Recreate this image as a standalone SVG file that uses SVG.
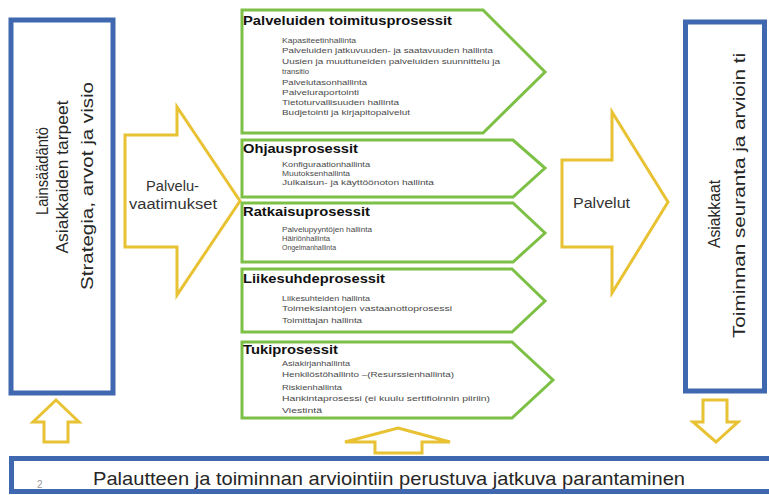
<svg xmlns="http://www.w3.org/2000/svg" width="769" height="495" viewBox="0 0 769 495">
<style>
.bluebox{fill:#ffffff;stroke:#4068B0;stroke-width:5}
.yarrow{fill:#ffffff;stroke:#E8C232;stroke-width:3;stroke-linejoin:miter}
.chev{fill:#ffffff;stroke:#7DC046;stroke-width:3}
.big{font-family:"Liberation Sans",Arial,sans-serif;fill:#262626}
.lbl{font-family:"Liberation Sans",Arial,sans-serif;font-size:14px;fill:#333}
.ttl{font-family:"Liberation Sans",Arial,sans-serif;font-size:13px;font-weight:bold;fill:#111}
.itm{font-family:"Liberation Sans",Arial,sans-serif;font-size:8px;fill:#4a4a4a}
</style>
<rect width="769" height="495" fill="#ffffff"/>

<g id="left-box">
<rect class="bluebox" x="11" y="20" width="102" height="373"/>
<text class="big" font-size="17" text-anchor="middle" transform="translate(48,171) rotate(-90)" textLength="88" lengthAdjust="spacingAndGlyphs">Lainsäädäntö</text>
<text class="big" font-size="17" text-anchor="middle" transform="translate(68,177) rotate(-90)" textLength="153" lengthAdjust="spacingAndGlyphs">Asiakkaiden tarpeet</text>
<text class="big" font-size="17" text-anchor="middle" transform="translate(93,186) rotate(-90)" textLength="208" lengthAdjust="spacingAndGlyphs">Strategia, arvot ja visio</text>
</g>

<g id="right-box">
<rect class="bluebox" x="685.5" y="22" width="79" height="369"/>
<text class="big" font-size="17" text-anchor="middle" transform="translate(720,214) rotate(-90)" textLength="68" lengthAdjust="spacingAndGlyphs">Asiakkaat</text>
<text class="big" font-size="17" text-anchor="middle" transform="translate(745,195.5) rotate(-90)" textLength="285" lengthAdjust="spacingAndGlyphs">Toiminnan seuranta ja arvioin ti</text>
</g>

<g id="bottom-bar">
<rect class="bluebox" x="11.5" y="458.5" width="770" height="33"/>
<text x="37" y="488" font-family="Liberation Sans,Arial,sans-serif" font-size="10" fill="#9a9a9a">2</text>
<text class="big" x="93" y="485" font-size="19" textLength="592" lengthAdjust="spacingAndGlyphs">Palautteen ja toiminnan arviointiin perustuva jatkuva parantaminen</text>
</g>

<g id="arrow-vaatimukset">
<polygon class="yarrow" points="125,135 177,135 177,107 240,201 177,295 177,247 125,247"/>
<text class="lbl" x="172.5" y="191" text-anchor="middle" textLength="53" lengthAdjust="spacingAndGlyphs">Palvelu-</text>
<text class="lbl" x="173" y="209" text-anchor="middle" textLength="88" lengthAdjust="spacingAndGlyphs">vaatimukset</text>
</g>

<g id="arrow-palvelut">
<polygon class="yarrow" points="562,160 612,160 612,112 668,202 612,293 612,247 562,247"/>
<text class="lbl" x="601.5" y="208" text-anchor="middle" textLength="57" lengthAdjust="spacingAndGlyphs">Palvelut</text>
</g>

<g id="proc-toimitus">
<polygon class="chev" points="242,10 483,10 545,72 483,133 242,133"/>
<text class="ttl" x="243" y="25" textLength="209" lengthAdjust="spacingAndGlyphs">Palveluiden toimitusprosessit</text>
<text class="itm" x="282" y="43" textLength="74" lengthAdjust="spacingAndGlyphs">Kapasiteetinhallinta</text>
<text class="itm" x="282" y="53" textLength="211" lengthAdjust="spacingAndGlyphs">Palveluiden jatkuvuuden- ja saatavuuden hallinta</text>
<text class="itm" x="282" y="64" textLength="218" lengthAdjust="spacingAndGlyphs">Uusien ja muuttuneiden palveluiden suunnittelu ja</text>
<text class="itm" x="282" y="74" textLength="27" lengthAdjust="spacingAndGlyphs">transitio</text>
<text class="itm" x="282" y="85" textLength="85" lengthAdjust="spacingAndGlyphs">Palvelutasonhallinta</text>
<text class="itm" x="282" y="95" textLength="77" lengthAdjust="spacingAndGlyphs">Palveluraportointi</text>
<text class="itm" x="282" y="105" textLength="117" lengthAdjust="spacingAndGlyphs">Tietoturvallisuuden hallinta</text>
<text class="itm" x="282" y="115" textLength="128" lengthAdjust="spacingAndGlyphs">Budjetointi ja kirjapitopalvelut</text>
</g>

<g id="proc-ohjaus">
<polygon class="chev" points="242,140 513,140 545,168 513,197 242,197"/>
<text class="ttl" x="243" y="153" textLength="115" lengthAdjust="spacingAndGlyphs">Ohjausprosessit</text>
<text class="itm" x="282" y="167" textLength="88" lengthAdjust="spacingAndGlyphs">Konfiguraationhallinta</text>
<text class="itm" x="282" y="176" textLength="68" lengthAdjust="spacingAndGlyphs">Muutoksenhallinta</text>
<text class="itm" x="282" y="185" textLength="152" lengthAdjust="spacingAndGlyphs">Julkaisun- ja käyttöönoton hallinta</text>
</g>

<g id="proc-ratkaisu">
<polygon class="chev" points="242,203 513,203 545,233 513,262 242,262"/>
<text class="ttl" x="243" y="216" textLength="127" lengthAdjust="spacingAndGlyphs">Ratkaisuprosessit</text>
<text class="itm" x="282" y="232" textLength="90" lengthAdjust="spacingAndGlyphs">Palvelupyyntöjen hallinta</text>
<text class="itm" x="282" y="241" textLength="48" lengthAdjust="spacingAndGlyphs">Häiriönhallinta</text>
<text class="itm" x="282" y="250" textLength="54" lengthAdjust="spacingAndGlyphs">Ongelmanhallinta</text>
</g>

<g id="proc-liikesuhde">
<polygon class="chev" points="242,269 512,269 545,301 512,332 242,332"/>
<text class="ttl" x="243" y="283" textLength="142" lengthAdjust="spacingAndGlyphs">Liikesuhdeprosessit</text>
<text class="itm" x="282" y="301" textLength="88" lengthAdjust="spacingAndGlyphs">Liikesuhteiden hallinta</text>
<text class="itm" x="282" y="311" textLength="170" lengthAdjust="spacingAndGlyphs">Toimeksiantojen vastaanottoprosessi</text>
<text class="itm" x="282" y="323" textLength="80" lengthAdjust="spacingAndGlyphs">Toimittajan hallinta</text>
</g>

<g id="proc-tuki">
<polygon class="chev" points="242,342 512,342 553,380 512,418 242,418"/>
<text class="ttl" x="243" y="354" textLength="95" lengthAdjust="spacingAndGlyphs">Tukiprosessit</text>
<text class="itm" x="282" y="366" textLength="68" lengthAdjust="spacingAndGlyphs">Asiakirjanhallinta</text>
<text class="itm" x="282" y="377" textLength="172" lengthAdjust="spacingAndGlyphs">Henkilöstöhallinto –(Resurssienhallinta)</text>
<text class="itm" x="282" y="390" textLength="60" lengthAdjust="spacingAndGlyphs">Riskienhallinta</text>
<text class="itm" x="282" y="401" textLength="208" lengthAdjust="spacingAndGlyphs">Hankintaprosessi (ei kuulu sertifioinnin piiriin)</text>
<text class="itm" x="282" y="413" textLength="40" lengthAdjust="spacingAndGlyphs">Viestintä</text>
</g>

<g id="connectors">
<polygon class="yarrow" points="56,400 79,422 68,422 68,442 44,442 44,422 33,422"/>
<polygon class="yarrow" points="703,400 727,400 727,422 738,422 716,442 693,422 703,422"/>
<polygon class="yarrow" points="398,428 450,442 422,442 422,453 375,453 375,442 345,442"/>
</g>
</svg>
